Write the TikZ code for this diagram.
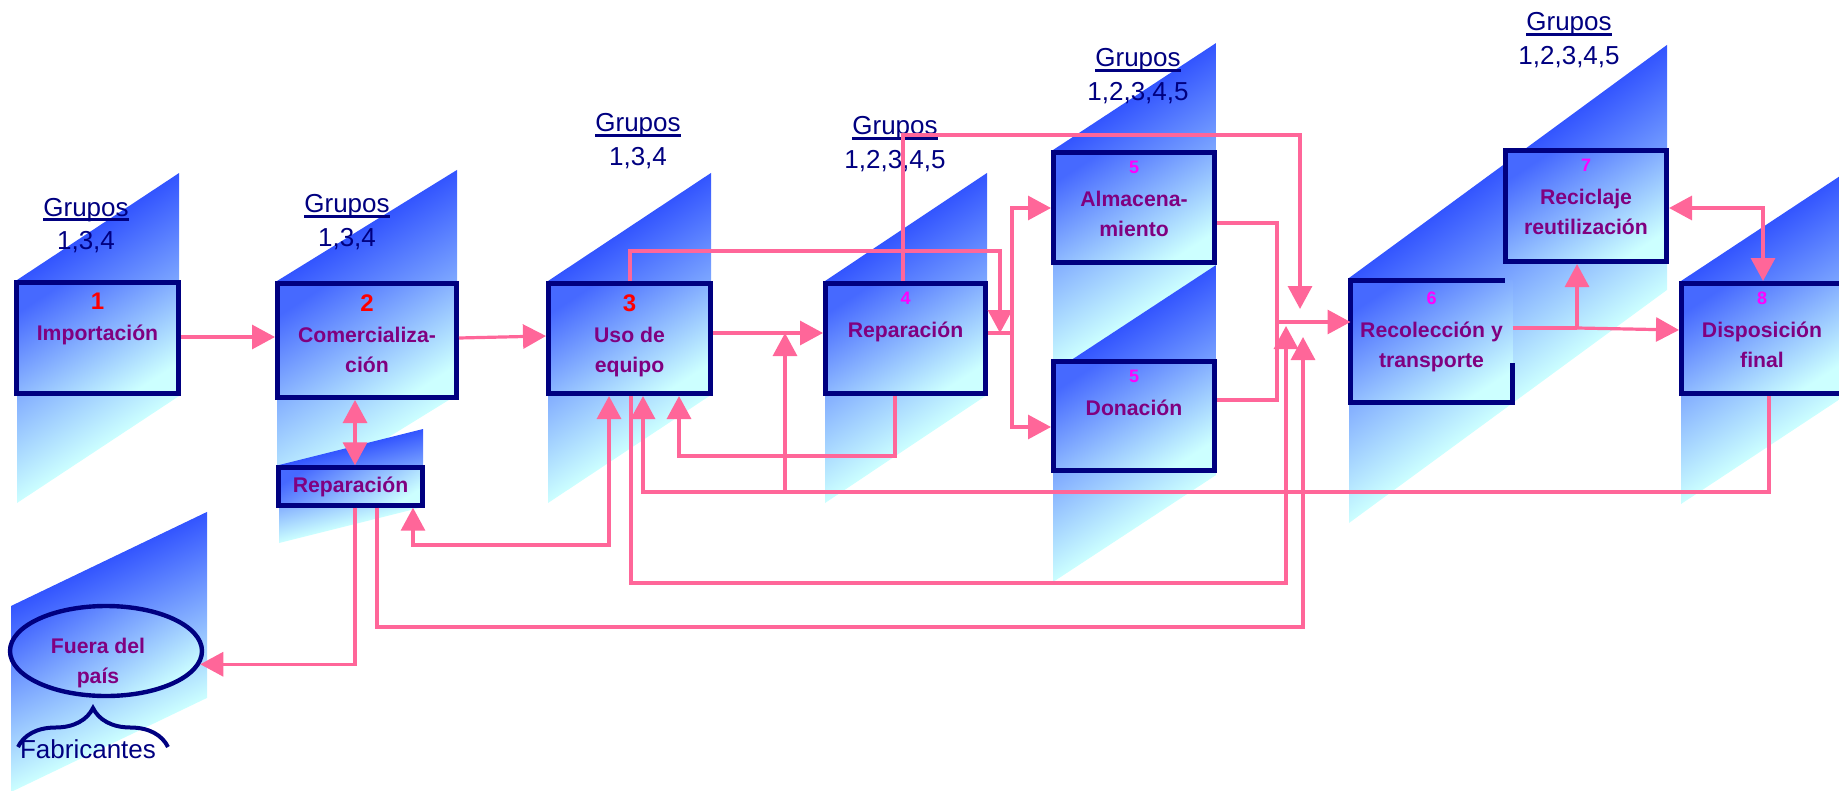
\documentclass[tikz,border=0pt]{standalone}
\usepackage{fontspec}
\setmainfont{Liberation Sans}
\usepackage{tikz}
\usetikzlibrary{positioning, arrows.meta, shapes.geometric, decorations.pathreplacing}

\definecolor{navyc}{RGB}{0,0,128}
\definecolor{purp}{RGB}{128,0,128}
\definecolor{numred}{RGB}{255,0,0}
\definecolor{nummag}{RGB}{255,0,255}
\definecolor{pinkc}{RGB}{255,102,153}
\definecolor{shtop}{RGB}{51,85,255}
\definecolor{shbot}{RGB}{204,255,255}
\definecolor{bxtop}{RGB}{70,105,255}

\newsavebox{\grbox}
\newcommand{\ulgr}[1]{\sbox{\grbox}{#1}\rlap{\rule[-2.4pt]{\wd\grbox}{1.2pt}}\usebox{\grbox}}
\newcommand{\redno}[1]{{\fontsize{12}{15}\selectfont\color{numred}#1}}
\newcommand{\magno}[1]{{\fontsize{9}{15}\selectfont\color{nummag}#1}}

\begin{document}
\begin{tikzpicture}[
        x=0.5pt, y=-0.5pt,
        >={Triangle[length=11.5pt, width=12pt]},
        box/.style={
            draw=navyc,
            line width=2.5pt,
            top color=bxtop,
            bottom color=shbot,
            shading angle=33,
            inner sep=0pt
        },
        shd/.style={top color=shtop, bottom color=shbot},
        lbl/.style={font=\fontsize{10.6}{15}\selectfont\bfseries, text=purp, align=center, inner sep=0pt},
        grp/.style={font=\fontsize{13}{15}\selectfont, text=navyc, inner sep=0pt},
        flow/.style={->, draw=pinkc, line width=1.6pt},
        flowline/.style={draw=pinkc, line width=1.6pt}
    ]
    \useasboundingbox (0,0) rectangle (1839,791);

    % slanted shadows
    \shade[shd, transform canvas={shift={(17,280)}, yslant=0.66}] (0,0) rectangle (162,223);
    \shade[shd, transform canvas={shift={(277,281)}, yslant=0.617}] (0,0) rectangle (180,225);
    \shade[shd, transform canvas={shift={(279,465)}, yslant=0.25}] (0,0) rectangle (144,78);
    \shade[shd, transform canvas={shift={(11,606)}, yslant=0.48}] (0,0) rectangle (196,186);
    \shade[shd, transform canvas={shift={(548,281)}, yslant=0.663}] (0,0) rectangle (163,222);
    \shade[shd, transform canvas={shift={(825,281)}, yslant=0.667}] (0,0) rectangle (162,222);
    \shade[shd, transform canvas={shift={(1053,150)}, yslant=0.656}] (0,0) rectangle (163,222);
    \shade[shd, transform canvas={shift={(1053,372)}, yslant=0.656}] (0,0) rectangle (163,210);
    \shade[shd, transform canvas={shift={(1349,278)}, yslant=0.733}] (0,0) rectangle (318,245);
    \shade[shd, transform canvas={shift={(1681,281)}, yslant=0.66}] (0,0) rectangle (170,223);

    % boxes
    \node[box, minimum width=81pt, minimum height=55.5pt] (b1) at (97.5,338) {};
    \node[box, minimum width=89.5pt, minimum height=57pt] (b2) at (367,340.5) {};
    \node[box, minimum width=81pt, minimum height=55pt] (b3) at (629.5,338.5) {};
    \node[box, minimum width=80pt, minimum height=55pt] (b4) at (905.5,338.5) {};
    \node[box, minimum width=80.5pt, minimum height=55pt] (b5a) at (1134,207.5) {};
    \node[box, minimum width=80.5pt, minimum height=54.5pt] (b5b) at (1134,416) {};
    \node[box, draw=none, outer sep=0pt, minimum width=81pt, minimum height=61pt] (b6) at (1431.5,341.5) {};
    \draw[navyc, line width=2.5pt] ([xshift=-4pt]b6.north east) -- (b6.north west) -- (b6.south west) -- (b6.south east) -- ([yshift=20pt]b6.south east);
    \node[box, minimum width=80.5pt, minimum height=55.5pt] (b7) at (1586,206) {};
    \node[box, minimum width=80.5pt, minimum height=55pt] (b8) at (1762,338.5) {};
    \node[box, line width=2.2pt, minimum width=72pt, minimum height=19pt,
          font=\fontsize{10.6}{15}\selectfont\bfseries, text=purp] (r2) at (350.5,486.5) {Reparación};
    \node[box, ellipse, line width=2.2pt, minimum width=96pt, minimum height=45pt] (fp) at (106,651) {};

    \node[lbl, below=6.5pt of b1.north] (l1) {\redno{1}\\[0.5pt]Importación};
    \node[lbl, below=6.5pt of b2.north] (l2) {\redno{2}\\[0.5pt]Comercializa-\\ción};
    \node[lbl, below=6.5pt of b3.north] (l3) {\redno{3}\\[0.5pt]Uso de\\equipo};
    \node[lbl, below=5.5pt of b4.north] (l4) {\magno{4}\\[1.5pt]Reparación};
    \node[lbl, below=5.5pt of b5a.north] (l5a) {\magno{5}\\[1.5pt]Almacena-\\miento};
    \node[lbl, below=5.5pt of b5b.north] (l5b) {\magno{5}\\[1.5pt]Donación};
    \node[lbl, below=5.5pt of b6.north] (l6) {\magno{6}\\[1.5pt]Recolección y\\transporte};
    \node[lbl, below=5.5pt of b7.north] (l7) {\magno{7}\\[1.5pt]Reciclaje\\reutilización};
    \node[lbl, below=5.5pt of b8.north] (l8) {\magno{8}\\[1.5pt]Disposición\\final};
    \node[lbl, below=17pt of fp.north, xshift=-4pt] (fpt) {Fuera del\\país};

    % group headings
    \node[grp, anchor=base] (g1) at (86,216) {\ulgr{Grupos}};
    \node[grp, below=7.6pt of g1.base] (g1n) {1,3,4};
    \node[grp, anchor=base] (g2) at (347,213) {\ulgr{Grupos}};
    \node[grp, below=7.6pt of g2.base] (g2n) {1,3,4};
    \node[grp, anchor=base] (g3) at (638,132) {\ulgr{Grupos}};
    \node[grp, below=7.6pt of g3.base] (g3n) {1,3,4};
    \node[grp, anchor=base] (g4) at (895,135) {\ulgr{Grupos}};
    \node[grp, below=7.6pt of g4.base] (g4n) {1,2,3,4,5};
    \node[grp, anchor=base] (g5) at (1138,67) {\ulgr{Grupos}};
    \node[grp, below=7.6pt of g5.base] (g5n) {1,2,3,4,5};
    \node[grp, anchor=base] (g7) at (1569,31) {\ulgr{Grupos}};
    \node[grp, below=7.6pt of g7.base] (g7n) {1,2,3,4,5};

    % junctions
    \coordinate (sp4) at (1012,333);
    \coordinate (m6) at (1277,322);
    \coordinate (sp6) at (1577,328);
    \coordinate (j9) at (785,492);
    \coordinate (t5) at (1000,333);
    \coordinate (t6) at (1300,309);
    \coordinate (t9) at (785,333);
    \coordinate (t12) at (1286,326);
    \coordinate (t13) at (1303,337);

    \draw[flow] (b1.east |- 0,337) -- (b2.west |- 0,337);
    \draw[flow] (b2.east |- 0,338) -- (b3.west |- 0,336);
    \draw[flow, <->] (b2.south -| 355,0) -- (r2.north -| 355,0);
    \draw[flow] (b3.east |- 0,333) -- (b4.west |- 0,333);
    \draw[flow] (b3.north -| 630,0) |- (1000,251) -- (t5);
    \draw[flowline] (b4.east |- sp4) -- (sp4);
    \draw[flow] (sp4) |- (b5a.west |- 0,208);
    \draw[flow] (sp4) |- (b5b.west |- 0,427);
    \draw[flow] (b4.north -| 903,0) |- (1300,135) -- (t6);
    \draw[flowline] (b5a.east |- 0,223) -| (m6) |- (b5b.east |- 0,400);
    \draw[flow] (m6) -- (b6.west |- m6);
    \draw[flowline] (b6.east |- sp6) -- (sp6);
    \draw[flow] (sp6) -- (b8.west |- 0,330);
    \draw[flow] (sp6) -- (b7.south -| sp6);
    \draw[flow, <->] (b7.east |- 0,208) -| (b8.north -| 1763,0);
    \draw[flow] (b8.south -| 1769,0) |- (643,492) -- (b3.south -| 643,0);
    \draw[flow] (j9) -- (t9);
    \draw[flow] (b4.south -| 895,0) |- (679,456) -- (b3.south -| 679,0);
    \draw[flow, <->] (b3.south -| 609,0) |- (413,545) -- (r2.south -| 413,0);
    \draw[flow] (b3.south -| 631,0) |- (1286,583) -- (t12);
    \draw[flow] (r2.south -| 377,0) |- (1303,627) -- (t13);
    \draw[flow] (r2.south -| 355,0) |- (fp.-8);

    \draw[navyc, line width=2pt, decorate, decoration={brace, amplitude=19.5pt}] (18,747) -- (168,747);
    \node[grp, anchor=base] (fab) at (88,758) {Fabricantes};
\end{tikzpicture}
\end{document}
